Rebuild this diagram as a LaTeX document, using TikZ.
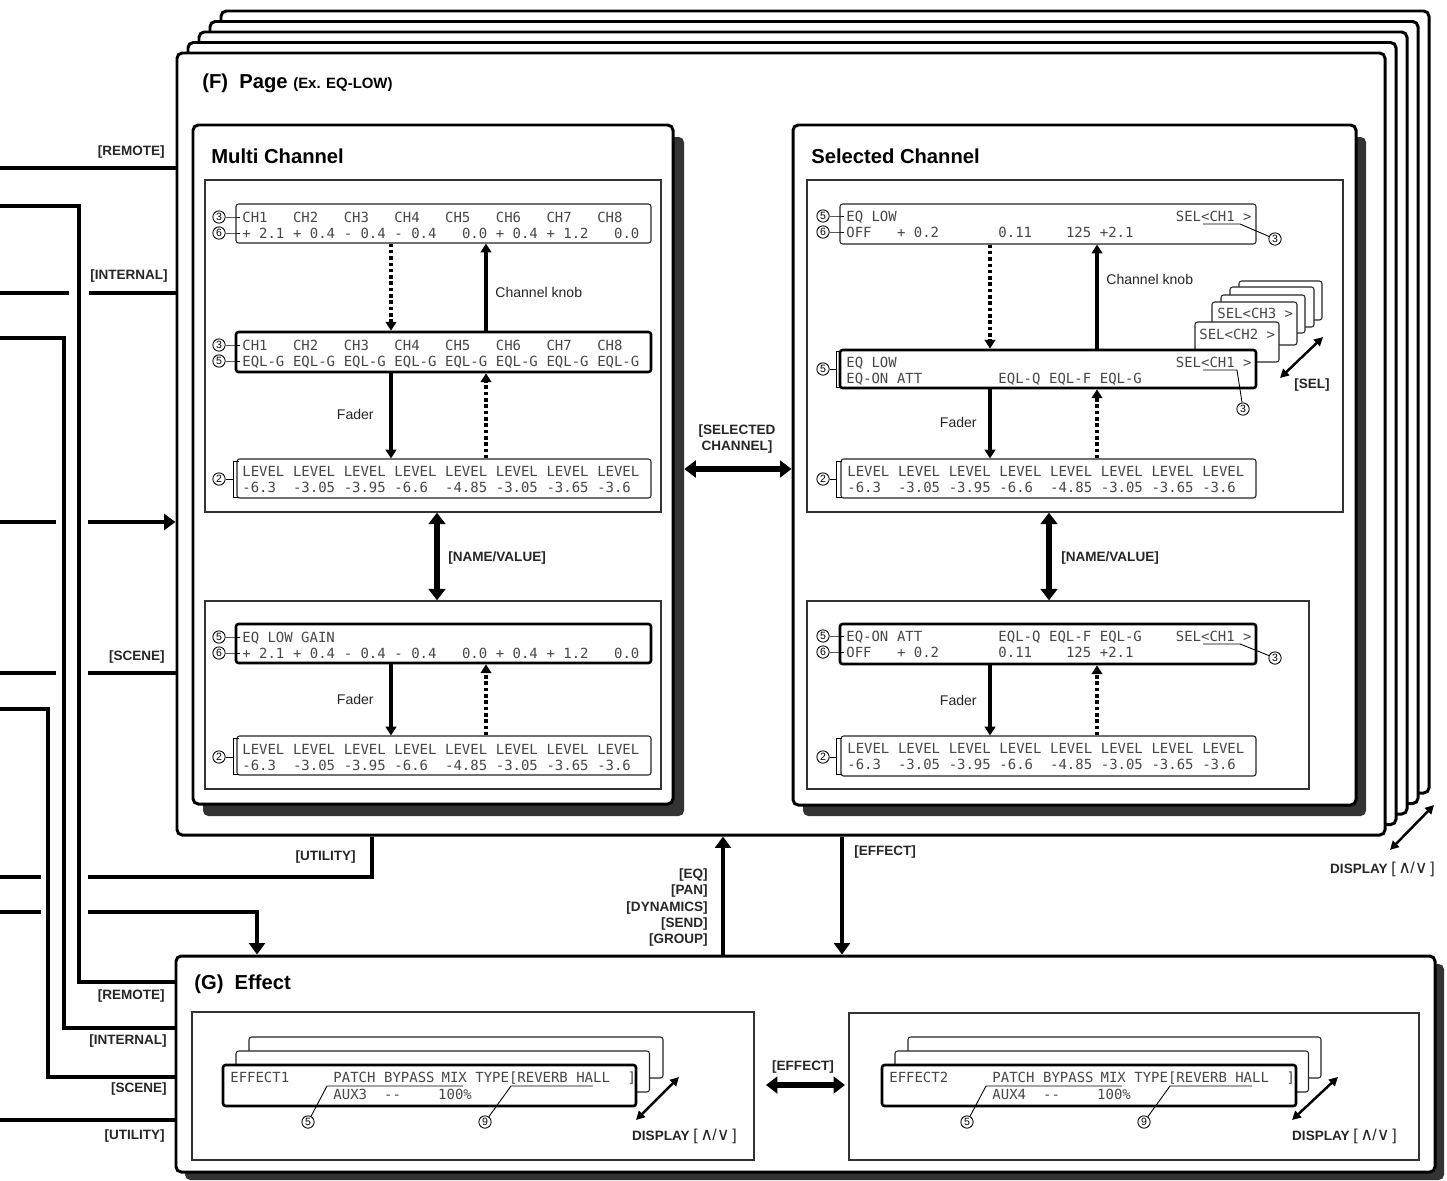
\documentclass[tikz,border=0pt]{standalone}
\usepackage{fontspec}
\setmainfont{Liberation Sans}
\newfontfamily\lcdfont{DejaVu Sans Mono}
\newfontfamily\symfont{DejaVu Sans}
\usepackage{tikz}
\usetikzlibrary{arrows.meta,fit}

\tikzset{
  sheet/.style={draw, line width=1.7pt, rounded corners=3pt, fill=white, inner sep=0pt},
  backdrop/.style={fill=black!80, rounded corners=3pt, inner sep=0pt},
  grp/.style={draw=black!80, line width=0.8pt, fill=white, inner sep=0pt},
  lcd/.style={draw=black!85, line width=0.6pt, rounded corners=1.5pt, fill=white, inner sep=0pt},
  lcdon/.style={lcd, draw=black, line width=1.5pt},
  lt/.style={font=\lcdfont\fontsize{7.95}{9}\selectfont, text=black!72, anchor=base west, inner sep=0pt},
  ttl/.style={font=\bfseries\fontsize{11.5}{13}\selectfont, anchor=west, inner sep=0pt},
  keylbl/.style={font=\bfseries\fontsize{7.7}{9.2}\selectfont, text=black!85, inner sep=0pt},
  txt/.style={font=\fontsize{8}{9.5}\selectfont, text=black!85, inner sep=0pt},
  cnum/.style={circle, draw, line width=0.5pt, inner sep=0pt, minimum size=7pt, font=\fontsize{6}{6}\selectfont},
  lead/.style={line width=0.5pt},
  wire/.style={line width=2.8pt},
  wirearr/.style={wire, -{Triangle[length=6.5pt,width=9pt]}},
  arr/.style={line width=1.9pt, -{Triangle[length=5pt,width=6pt]}},
  darr/.style={arr, dash pattern=on 2pt off 1.6pt},
  bigdarr/.style={line width=3.6pt, {Triangle[length=6.5pt,width=9.5pt]}-{Triangle[length=6.5pt,width=9.5pt]}},
  smalldarr/.style={line width=1.4pt, {Triangle[length=5pt,width=5pt]}-{Triangle[length=5pt,width=5pt]}},
}

% one text line of a display, columns of 8.45px
\newcommand\lcdrow[4]{%
  \foreach \n/\cell [count=\i] in {#4}
    \node[lt] (#1-\i) at ({#2+8.45*\n},#3) {\cell};}

\newcommand\dispkey{DISPLAY {\mdseries\fontsize{9}{9}\selectfont[\,{\symfont\fontsize{10}{10}\selectfont ∧\kern-0.5pt}/{\symfont\fontsize{10}{10}\selectfont ∨}\,]}}

\begin{document}
\begin{tikzpicture}[x=0.02cm, y=-0.02cm]
\useasboundingbox (0,0) rectangle (1447,1180);

%pages stacked behind the front page
\foreach \k in {4,3,2,1}
  \draw[sheet] ({177+11*\k},{53-10.5*\k}) rectangle ({1385+11*\k},{835-10.5*\k});
\node[sheet, fit={(177,53) (1385,835)}] (page) {};
\node[ttl] (pagettl) at (202,83) {(F)\ \ Page {\fontsize{8.5}{10}\selectfont (Ex. EQ-LOW)}};

%multi channel panel
\node[backdrop, fit={(203,137) (684,816)}] (mcsh) {};
\node[sheet, fit={(193,125) (673,804)}] (mc) {};
\node[ttl] (mcttl) at (211,156) {Multi Channel};
\node[grp, fit={(205,180) (661,512)}] (mcg1) {};
\node[grp, fit={(205,601) (661,789)}] (mcg2) {};

\node[lcd, fit={(236,204) (651,243)}] (m1) {};
\node[lcdon, fit={(236,332) (651,372)}] (m2) {};
\node[lcd, fit={(237,459) (651,498)}] (m3) {};
\node[lcdon, fit={(236,624) (651,663)}] (m4) {};
\node[lcd, fit={(237,736) (651,775)}] (m5) {};

\lcdrow{m1a}{242}{222}{0/CH1,6/CH2,12/CH3,18/CH4,24/CH5,30/CH6,36/CH7,42/CH8}
\lcdrow{m1b}{242}{238}{0/+ 2.1,6/+ 0.4,12/- 0.4,18/- 0.4,26/0.0,30/+ 0.4,36/+ 1.2,44/0.0}
\lcdrow{m2a}{242}{350}{0/CH1,6/CH2,12/CH3,18/CH4,24/CH5,30/CH6,36/CH7,42/CH8}
\lcdrow{m2b}{242}{366}{0/EQL-G,6/EQL-G,12/EQL-G,18/EQL-G,24/EQL-G,30/EQL-G,36/EQL-G,42/EQL-G}
\lcdrow{m3a}{242}{476}{0/LEVEL,6/LEVEL,12/LEVEL,18/LEVEL,24/LEVEL,30/LEVEL,36/LEVEL,42/LEVEL}
\lcdrow{m3b}{242}{492}{0/-6.3,6/-3.05,12/-3.95,18/-6.6,24/-4.85,30/-3.05,36/-3.65,42/-3.6}
\lcdrow{m4a}{242}{642}{0/EQ LOW GAIN}
\lcdrow{m4b}{242}{658}{0/+ 2.1,6/+ 0.4,12/- 0.4,18/- 0.4,26/0.0,30/+ 0.4,36/+ 1.2,44/0.0}
\lcdrow{m5a}{242}{754}{0/LEVEL,6/LEVEL,12/LEVEL,18/LEVEL,24/LEVEL,30/LEVEL,36/LEVEL,42/LEVEL}
\lcdrow{m5b}{242}{770}{0/-6.3,6/-3.05,12/-3.95,18/-6.6,24/-4.85,30/-3.05,36/-3.65,42/-3.6}

%circled numbers, multi channel
\node[cnum] (m1n3) at (219,217) {3};
\node[cnum] (m1n6) at (219,233) {6};
\node[cnum] (m2n3) at (219,345) {3};
\node[cnum] (m2n5) at (219,361) {5};
\node[cnum] (m3n2) at (219,479) {2};
\node[cnum] (m4n5) at (219,637) {5};
\node[cnum] (m4n6) at (219,653) {6};
\node[cnum] (m5n2) at (219,757) {2};
\draw[lead] (m1n3) -- (m1n3 -| m1.west) -- ++(5,0);
\draw[lead] (m1n6) -- (m1n6 -| m1.west) -- ++(5,0);
\draw[lead] (m2n3) -- (m2n3 -| m2.west) -- ++(5,0);
\draw[lead] (m2n5) -- (m2n5 -| m2.west) -- ++(5,0);
\draw[lead] (m4n5) -- (m4n5 -| m4.west) -- ++(5,0);
\draw[lead] (m4n6) -- (m4n6 -| m4.west) -- ++(5,0);
\draw[lead] (m3n2) -- (233,479);
\draw[lead] (239,461) -- (233,461) -- (233,497) -- (239,497);
\draw[lead] (m5n2) -- (233,757);
\draw[lead] (239,738) -- (233,738) -- (233,774) -- (239,774);

%arrows, multi channel
\draw[darr] (391,0 |- m1.south) -- (391,0 |- m2.north);
\draw[arr] (486,0 |- m2.north) -- (486,0 |- m1.south);
\draw[arr] (391,0 |- m2.south) -- (391,0 |- m3.north);
\draw[darr] (486,0 |- m3.north) -- (486,0 |- m2.south);
\draw[bigdarr] (437,0 |- mcg1.south) -- (437,0 |- mcg2.north);
\draw[arr] (391,0 |- m4.south) -- (391,0 |- m5.north);
\draw[darr] (486,0 |- m5.north) -- (486,0 |- m4.south);
\node[txt, anchor=west] (mcknob) at (495,292) {Channel knob};
\node[txt, anchor=east] (mcfad1) at (374,414) {Fader};
\node[keylbl, anchor=west] (mcnv) at (448,558) {[NAME/VALUE]};
\node[txt, anchor=east] (mcfad2) at (374,699) {Fader};

%selected channel panel
\node[backdrop, fit={(803,137) (1366,816)}] (scsh) {};
\node[sheet, fit={(793,125) (1356,805)}] (sc) {};
\node[ttl] (scttl) at (811,156) {Selected Channel};
\node[grp, fit={(807,180) (1343,512)}] (scg1) {};
\node[grp, fit={(807,601) (1309,789)}] (scg2) {};

\node[lcd, fit={(840,204) (1256,244)}] (s1) {};
%other channels behind
\foreach \xa/\ya/\xb/\yb [count=\i] in {1239/281/1322/320, 1230/287/1314/327, 1221/295/1305/333, 1212/302/1297/345, 1195/322/1279/362}
  \node[lcd, fit={(\xa,\ya) (\xb,\yb)}] (selpg\i) {};
\node[lt] (selch3) at (1217,318) {SEL<CH3 >};
\node[lt] (selch2) at (1199,339) {SEL<CH2 >};
\node[lcdon, fit={(840,350) (1256,388)}] (s2) {};
\node[lcd, fit={(841,459) (1256,498)}] (s3) {};
\node[lcdon, fit={(840,624) (1256,664)}] (s4) {};
\node[lcd, fit={(841,736) (1256,776)}] (s5) {};

\lcdrow{s1a}{846}{221}{0/EQ LOW,39/SEL<CH1 >}
\lcdrow{s1b}{846}{237}{0/OFF,6/+ 0.2,18/0.11,26/125,30/+2.1}
\lcdrow{s2a}{846}{367}{0/EQ LOW,39/SEL<CH1 >}
\lcdrow{s2b}{846}{383}{0/EQ-ON,6/ATT,18/EQL-Q,24/EQL-F,30/EQL-G}
\lcdrow{s3a}{847}{476}{0/LEVEL,6/LEVEL,12/LEVEL,18/LEVEL,24/LEVEL,30/LEVEL,36/LEVEL,42/LEVEL}
\lcdrow{s3b}{847}{492}{0/-6.3,6/-3.05,12/-3.95,18/-6.6,24/-4.85,30/-3.05,36/-3.65,42/-3.6}
\lcdrow{s4a}{846}{641}{0/EQ-ON,6/ATT,18/EQL-Q,24/EQL-F,30/EQL-G,39/SEL<CH1 >}
\lcdrow{s4b}{846}{657}{0/OFF,6/+ 0.2,18/0.11,26/125,30/+2.1}
\lcdrow{s5a}{847}{753}{0/LEVEL,6/LEVEL,12/LEVEL,18/LEVEL,24/LEVEL,30/LEVEL,36/LEVEL,42/LEVEL}
\lcdrow{s5b}{847}{769}{0/-6.3,6/-3.05,12/-3.95,18/-6.6,24/-4.85,30/-3.05,36/-3.65,42/-3.6}

%circled numbers, selected channel
\node[cnum] (s1n5) at (823,216) {5};
\node[cnum] (s1n6) at (823,232) {6};
\node[cnum] (s2n5) at (823,369) {5};
\node[cnum] (s3n2) at (823,479) {2};
\node[cnum] (s4n5) at (823,636) {5};
\node[cnum] (s4n6) at (823,652) {6};
\node[cnum] (s5n2) at (823,757) {2};
\node[cnum] (s1n3) at (1275,239) {3};
\node[cnum] (s2n3) at (1243,409) {3};
\node[cnum] (s4n3) at (1275,658) {3};
\draw[lead] (s1n5) -- (s1n5 -| s1.west) -- ++(5,0);
\draw[lead] (s1n6) -- (s1n6 -| s1.west) -- ++(5,0);
\draw[lead] (s4n5) -- (s4n5 -| s4.west) -- ++(5,0);
\draw[lead] (s4n6) -- (s4n6 -| s4.west) -- ++(5,0);
\draw[lead] (s2n5) -- (836,369);
\draw[lead] (842,351) -- (836,351) -- (836,387) -- (842,387);
\draw[lead] (s3n2) -- (836,479);
\draw[lead] (842,461) -- (836,461) -- (836,497) -- (842,497);
\draw[lead] (s5n2) -- (836,757);
\draw[lead] (842,738) -- (836,738) -- (836,774) -- (842,774);
\draw[lead] (1203,224) -- (1240,224) -- (s1n3);
\draw[lead] (1203,370) -- (1237,370) -- (s2n3);
\draw[lead] (1203,644) -- (1240,644) -- (s4n3);

%arrows, selected channel
\draw[darr] (990,0 |- s1.south) -- (990,0 |- s2.north);
\draw[arr] (1097,0 |- s2.north) -- (1097,0 |- s1.south);
\draw[arr] (990,0 |- s2.south) -- (990,0 |- s3.north);
\draw[darr] (1097,0 |- s3.north) -- (1097,0 |- s2.south);
\draw[bigdarr] (1049,0 |- scg1.south) -- (1049,0 |- scg2.north);
\draw[arr] (990,0 |- s4.south) -- (990,0 |- s5.north);
\draw[darr] (1097,0 |- s5.north) -- (1097,0 |- s4.south);
\draw[smalldarr] (1280,378) -- (1323,337);
\node[txt, anchor=west] (scknob) at (1106,279) {Channel knob};
\node[txt, anchor=east] (scfad1) at (977,422) {Fader};
\node[keylbl, anchor=west] (scnv) at (1061,558) {[NAME/VALUE]};
\node[txt, anchor=east] (scfad2) at (977,700) {Fader};
\node[keylbl] (sellbl) at (1312,385) {[SEL]};

%between the two panels
\draw[bigdarr] (mcsh.east |- 0,469) -- (sc.west |- 0,469);
\node[keylbl, align=center] (sclbl) at (737,439) {[SELECTED\\CHANNEL]};
\draw[smalldarr] (1390,850) -- (1434,805);
\node[keylbl, anchor=east] (dispF) at (1435,869) {\dispkey};

%effect block
\node[backdrop, fit={(185,964) (1444,1180)}] (efsh) {};
\node[sheet, fit={(176,956) (1435,1172)}] (ef) {};
\node[ttl] (efttl) at (194,984) {(G)\ \ Effect};
\node[grp, fit={(192,1012) (754,1160)}] (efg1) {};
\node[grp, fit={(849,1013) (1419,1160)}] (efg2) {};

\foreach \k in {2,1} {
  \node[lcd, fit={({223+13*\k},{1065-14*\k}) ({636+13.5*\k},{1106-14*\k})}] (e1pg\k) {};
  \node[lcd, fit={({882+13*\k},{1065-14*\k}) ({1296+12.5*\k},{1106-14*\k})}] (e2pg\k) {};
}
\node[lcdon, fit={(223,1065) (636,1106)}] (e1) {};
\node[lcdon, fit={(882,1065) (1296,1106)}] (e2) {};

\lcdrow{e1a}{230}{1082}{0/EFFECT1,12.2/PATCH,18.2/BYPASS,25/MIX,29/TYPE[REVERB HALL,47/]}
\lcdrow{e1b}{230}{1099}{12.2/AUX3,18.2/--,24.6/100\%}
\lcdrow{e2a}{889}{1082}{0/EFFECT2,12.2/PATCH,18.2/BYPASS,25/MIX,29/TYPE[REVERB HALL,47/]}
\lcdrow{e2b}{889}{1099}{12.2/AUX4,18.2/--,24.6/100\%}

\node[cnum] (e1n5) at (308,1122) {5};
\node[cnum] (e1n9) at (485,1122) {9};
\node[cnum] (e2n5) at (967,1122) {5};
\node[cnum] (e2n9) at (1144,1122) {9};
\draw[lead] (463,1086) -- (327,1086) -- (e1n5);
\draw[lead] (593,1086) -- (511,1086) -- (e1n9);
\draw[lead] (1122,1086) -- (986,1086) -- (e2n5);
\draw[lead] (1252,1086) -- (1170,1086) -- (e2n9);

\draw[smalldarr] (636,1120) -- (679,1077);
\node[keylbl, anchor=east] (disp1) at (737,1136) {\dispkey};
\draw[smalldarr] (1292,1120) -- (1338,1077);
\node[keylbl, anchor=east] (disp2) at (1397,1136) {\dispkey};

\draw[bigdarr] (766,1085) -- (845,1085);
\node[keylbl] (eflbl) at (803,1067) {[EFFECT]};

%page <-> effect
\draw[wirearr] (723,0 |- ef.north) -- (723,0 |- page.south);
\draw[wirearr] (842,0 |- page.south) -- (842,0 |- ef.north);
\foreach \t [count=\i] in {EQ,PAN,DYNAMICS,SEND,GROUP}
  \node[keylbl, anchor=east] (fx\i) at (708,{875+16.3*(\i-1)}) {[\t]};
\node[keylbl, anchor=west] (effx) at (854,852) {[EFFECT]};

%lines coming in from the left
\coordinate (inRemote) at (0,168);
\coordinate (inRemoteE) at (0,206);
\coordinate (inInternal) at (0,293);
\coordinate (inInternalE) at (0,338);
\coordinate (inPage) at (0,522);
\coordinate (inScene) at (0,673);
\coordinate (inSceneE) at (0,709);
\coordinate (inUtility) at (0,877);
\coordinate (inEffect) at (0,912);
\coordinate (inUtilityE) at (0,1120);

\draw[wire] (inRemote) -- (inRemote -| page.west);
\draw[wire] (inRemoteE) -| (79,982) -- (79,982 -| ef.west);
\draw[wire] (inInternal) -- (69,293);
\draw[wire] (89,293) -- (89,293 -| page.west);
\draw[wire] (inInternalE) -| (64,1028) -- (64,1028 -| ef.west);
\draw[wire] (inPage) -- (56,522);
\draw[wirearr] (88,522) -- (88,522 -| page.west);
\draw[wire] (inScene) -- (56,673);
\draw[wire] (88,673) -- (88,673 -| page.west);
\draw[wire] (inSceneE) -| (48,1077) -- (48,1077 -| ef.west);
\draw[wire] (inUtility) -- (41,877);
\draw[wire] (88,877) -| (372,0 |- page.south);
\draw[wire] (inEffect) -- (41,912);
\draw[wirearr] (88,912) -| (257,0 |- ef.north);
\draw[wire] (inUtilityE) -- (inUtilityE -| ef.west);

\node[keylbl, anchor=east] (lRemote) at (165,152) {[REMOTE]};
\node[keylbl, anchor=east] (lInternal) at (168,276) {[INTERNAL]};
\node[keylbl, anchor=east] (lScene) at (165,657) {[SCENE]};
\node[keylbl, anchor=east] (lUtility) at (356,857) {[UTILITY]};
\node[keylbl, anchor=east] (lRemoteE) at (165,996) {[REMOTE]};
\node[keylbl, anchor=east] (lInternalE) at (167,1041) {[INTERNAL]};
\node[keylbl, anchor=east] (lSceneE) at (167,1089) {[SCENE]};
\node[keylbl, anchor=east] (lUtilityE) at (165,1136) {[UTILITY]};

\end{tikzpicture}
\end{document}
